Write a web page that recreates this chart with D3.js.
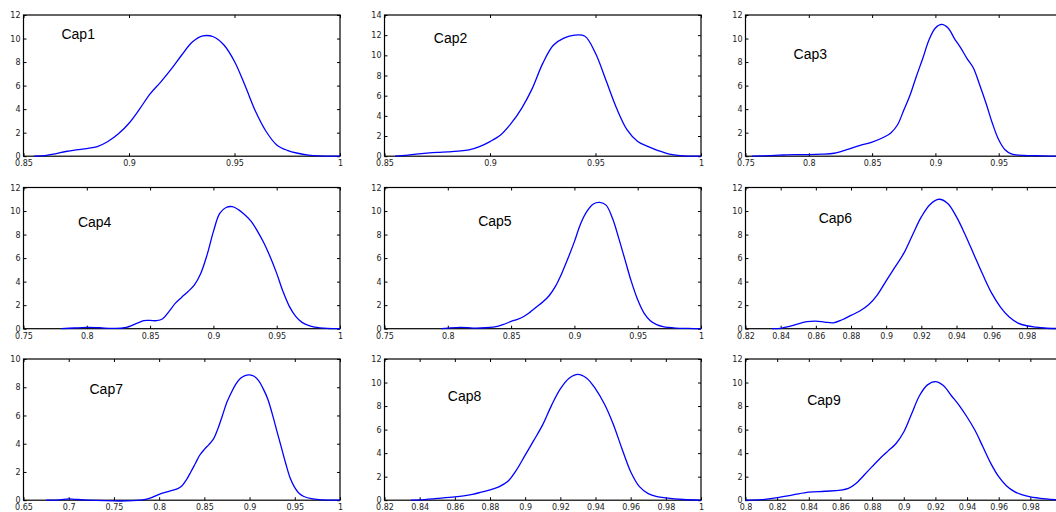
<!DOCTYPE html>
<html>
<head>
<meta charset="utf-8">
<script src="https://cdn.jsdelivr.net/npm/d3@7"></script>
<style>
  html, body { margin: 0; padding: 0; background: #fff; }
  svg { display: block; }
  .tick text { font-family: "DejaVu Sans", sans-serif; font-size: 8px; fill: #222; }
  .cap { font-family: "Liberation Sans", Arial, sans-serif; font-size: 14px; fill: #000; }
</style>
</head>
<body>
<svg id="chart" width="1056" height="512"></svg>
<script>
// Kernel density estimates of the nine capacity series, [value, density]
const cap1 = [[0.855,0],[0.86,0.05],[0.865,0.2],[0.87,0.4],[0.875,0.54],[0.88,0.65],[0.885,0.82],[0.89,1.25],[0.895,1.9],[0.9,2.8],[0.905,4.0],[0.91,5.3],[0.915,6.3],[0.92,7.4],[0.925,8.6],[0.93,9.7],[0.935,10.22],[0.94,10.15],[0.945,9.45],[0.95,8.05],[0.955,6.0],[0.96,3.8],[0.965,2.1],[0.97,0.96],[0.975,0.5],[0.98,0.25],[0.985,0.1],[0.99,0.03],[0.995,0.01],[1,0]];
const cap2 = [[0.855,0],[0.86,0.08],[0.865,0.2],[0.87,0.3],[0.875,0.38],[0.88,0.43],[0.885,0.5],[0.89,0.62],[0.895,0.95],[0.9,1.45],[0.905,2.1],[0.91,3.25],[0.915,4.75],[0.92,6.7],[0.925,9.2],[0.93,11.0],[0.935,11.7],[0.94,12.0],[0.945,11.9],[0.95,10.2],[0.955,7.5],[0.96,4.75],[0.965,2.6],[0.97,1.45],[0.975,0.95],[0.98,0.53],[0.985,0.2],[0.99,0.05],[0.995,0.01],[1,0]];
const cap3 = [[0.755,0],[0.77,0.05],[0.78,0.1],[0.79,0.14],[0.8,0.14],[0.81,0.17],[0.82,0.25],[0.83,0.55],[0.84,0.9],[0.85,1.2],[0.86,1.65],[0.865,2.0],[0.87,2.65],[0.875,3.9],[0.88,5.2],[0.885,6.8],[0.89,8.3],[0.895,9.9],[0.9,10.9],[0.905,11.2],[0.91,10.9],[0.915,10.0],[0.92,9.2],[0.925,8.3],[0.93,7.5],[0.935,6.05],[0.94,4.5],[0.945,2.8],[0.95,1.4],[0.955,0.55],[0.96,0.2],[0.97,0.06],[0.98,0.04],[0.99,0.01],[1,0]];
const cap4 = [[0.78,0],[0.79,0.06],[0.8,0.11],[0.81,0.08],[0.82,0.03],[0.83,0.08],[0.84,0.48],[0.845,0.68],[0.85,0.7],[0.855,0.68],[0.86,0.85],[0.865,1.47],[0.87,2.17],[0.875,2.68],[0.88,3.16],[0.885,3.73],[0.89,4.7],[0.895,6.27],[0.9,8.25],[0.905,9.8],[0.91,10.3],[0.915,10.37],[0.92,10.1],[0.925,9.66],[0.93,9.1],[0.935,8.25],[0.94,7.26],[0.945,6.07],[0.95,4.7],[0.955,3.16],[0.96,1.9],[0.965,1.05],[0.97,0.54],[0.975,0.28],[0.98,0.14],[0.99,0.03],[1,0]];
const cap5 = [[0.795,0],[0.8,0.05],[0.81,0.12],[0.82,0.05],[0.83,0.08],[0.84,0.22],[0.845,0.4],[0.85,0.62],[0.855,0.79],[0.86,1.04],[0.865,1.41],[0.87,1.84],[0.875,2.26],[0.88,2.8],[0.885,3.6],[0.89,4.7],[0.895,6.0],[0.9,7.4],[0.905,8.95],[0.91,10.0],[0.915,10.6],[0.92,10.73],[0.925,10.5],[0.93,9.4],[0.935,7.7],[0.94,5.85],[0.945,4.0],[0.95,2.46],[0.955,1.33],[0.96,0.68],[0.965,0.34],[0.97,0.17],[0.98,0.05],[0.99,0.02],[1,0]];
const cap6 = [[0.835,0],[0.84,0.03],[0.845,0.2],[0.85,0.42],[0.855,0.6],[0.86,0.65],[0.865,0.56],[0.87,0.5],[0.875,0.76],[0.88,1.13],[0.885,1.5],[0.89,2.03],[0.895,2.88],[0.9,4.07],[0.905,5.23],[0.91,6.4],[0.915,7.97],[0.92,9.5],[0.925,10.56],[0.93,11.0],[0.935,10.65],[0.94,9.5],[0.945,7.97],[0.95,6.27],[0.955,4.58],[0.96,3.02],[0.965,1.84],[0.97,0.99],[0.975,0.48],[0.98,0.25],[0.985,0.14],[0.99,0.06],[1,0]];
const cap7 = [[0.675,0],[0.69,0.03],[0.7,0.09],[0.71,0.05],[0.72,0],[0.78,0],[0.79,0.14],[0.8,0.42],[0.81,0.61],[0.82,0.8],[0.825,1.0],[0.83,1.43],[0.835,2.0],[0.84,2.6],[0.845,3.2],[0.85,3.6],[0.855,3.94],[0.86,4.32],[0.865,5.07],[0.87,6.0],[0.875,6.95],[0.88,7.65],[0.885,8.24],[0.89,8.64],[0.895,8.83],[0.9,8.87],[0.905,8.78],[0.91,8.47],[0.915,7.9],[0.92,7.18],[0.925,6.13],[0.93,4.95],[0.935,3.78],[0.94,2.6],[0.945,1.55],[0.95,0.89],[0.955,0.47],[0.96,0.26],[0.97,0.09],[0.98,0.02],[1,0]];
const cap8 = [[0.835,0],[0.84,0.03],[0.85,0.15],[0.86,0.28],[0.865,0.37],[0.87,0.5],[0.875,0.68],[0.88,0.87],[0.885,1.13],[0.89,1.58],[0.895,2.56],[0.9,3.83],[0.905,5.1],[0.91,6.42],[0.915,8.06],[0.92,9.46],[0.925,10.37],[0.93,10.7],[0.935,10.37],[0.94,9.46],[0.945,8.2],[0.95,6.5],[0.955,4.4],[0.96,2.42],[0.965,1.15],[0.97,0.56],[0.975,0.31],[0.98,0.2],[0.99,0.06],[1,0]];
const cap9 = [[0.8,0],[0.81,0.05],[0.82,0.22],[0.83,0.45],[0.84,0.68],[0.85,0.76],[0.86,0.85],[0.865,1.0],[0.87,1.44],[0.875,2.14],[0.88,2.85],[0.885,3.55],[0.89,4.17],[0.895,4.8],[0.9,5.8],[0.905,7.35],[0.91,8.9],[0.915,9.8],[0.92,10.08],[0.925,9.75],[0.93,8.9],[0.935,8.06],[0.94,7.07],[0.945,5.94],[0.95,4.54],[0.955,3.13],[0.96,2.0],[0.965,1.21],[0.97,0.73],[0.975,0.45],[0.98,0.28],[0.99,0.11],[1,0]];

const series = [cap1, cap2, cap3, cap4, cap5, cap6, cap7, cap8, cap9];
const names = ["Cap1", "Cap2", "Cap3", "Cap4", "Cap5", "Cap6", "Cap7", "Cap8", "Cap9"];

// Axis ranges and tick values for each panel
const xDomains = [[0.85,1],[0.85,1],[0.75,1],[0.75,1],[0.75,1],[0.82,1],[0.65,1],[0.82,1],[0.8,1]];
const yMaxes = [12, 14, 12, 12, 12, 12, 10, 12, 12];
const ticks05a = [0.85, 0.9, 0.95, 1];
const ticks05b = [0.75, 0.8, 0.85, 0.9, 0.95, 1];
const ticks05c = [0.65, 0.7, 0.75, 0.8, 0.85, 0.9, 0.95, 1];
const ticks02a = [0.82, 0.84, 0.86, 0.88, 0.9, 0.92, 0.94, 0.96, 0.98, 1];
const ticks02b = [0.8, 0.82, 0.84, 0.86, 0.88, 0.9, 0.92, 0.94, 0.96, 0.98, 1];
const xTicks = [ticks05a, ticks05a, ticks05b, ticks05b, ticks05b, ticks02a, ticks05c, ticks02a, ticks02b];

// Label anchors in data units (left edge, baseline)
const capAnchors = [[0.868,9.94],[0.8734,11.2],[0.788,8.24],[0.793,8.66],[0.824,8.75],[0.8616,8.95],[0.723,7.49],[0.856,8.43],[0.839,8.11]];

// Grid layout
const W = 1056;
const colX = [23.5, 384.5, 745.5];
const rowY = [15, 187.5, 359];
const pw = 316.5, ph = 141.2;
const tickLen = 3;

const svg = d3.select("#chart");
const fmt = d3.format("~g");

series.forEach((data, i) => {
  const left = colX[i % 3], top = rowY[Math.floor(i / 3)];
  const g = svg.append("g").attr("transform", `translate(${left},${top})`);

  const x = d3.scaleLinear().domain(xDomains[i]).range([0, pw]);
  const y = d3.scaleLinear().domain([0, yMaxes[i]]).range([ph, 0]);
  const yT = d3.range(0, yMaxes[i] + 1, 2);

  // bottom axis with labels, inward ticks
  g.append("g").attr("transform", `translate(0,${ph})`)
    .call(d3.axisBottom(x).tickValues(xTicks[i]).tickFormat(fmt).tickSize(-tickLen).tickPadding(4.3))
    .call(a => a.select(".domain").remove())
    // labels that would fall past the page edge are not drawn
    .call(a => a.selectAll(".tick text").filter(d => left + x(d) + 6 > W).remove());
  // top axis, ticks only
  g.append("g")
    .call(d3.axisTop(x).tickValues(xTicks[i]).tickFormat("").tickSize(-tickLen))
    .call(a => a.select(".domain").remove());
  // left axis with labels
  g.append("g")
    .call(d3.axisLeft(y).tickValues(yT).tickFormat(d3.format("d")).tickSize(-tickLen).tickPadding(3))
    .call(a => a.select(".domain").remove());
  // right axis, ticks only
  g.append("g").attr("transform", `translate(${pw},0)`)
    .call(d3.axisRight(y).tickValues(yT).tickFormat("").tickSize(-tickLen))
    .call(a => a.select(".domain").remove());

  g.selectAll(".tick line").attr("stroke", "#000").attr("stroke-width", 1);

  // frame
  g.append("rect").attr("width", pw).attr("height", ph)
    .attr("fill", "none").attr("stroke", "#000").attr("stroke-width", 1.2);

  // density curve
  const line = d3.line().x(d => x(d[0])).y(d => y(Math.max(0, d[1])))
    .curve(d3.curveCatmullRom.alpha(0.5));
  g.append("path").datum(data).attr("d", line)
    .attr("fill", "none").attr("stroke", "#0000ff").attr("stroke-width", 1.3);

  // panel label
  g.append("text").attr("class", "cap")
    .attr("x", x(capAnchors[i][0])).attr("y", y(capAnchors[i][1]))
    .text(names[i]);
});
</script>
</body>
</html>
